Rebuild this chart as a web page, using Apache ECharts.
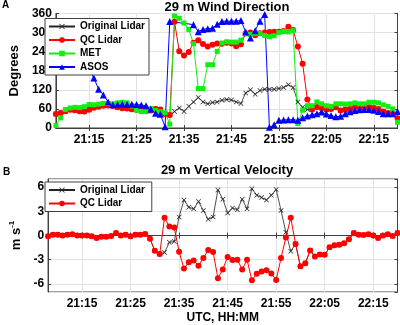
<!DOCTYPE html>
<html>
<head>
<meta charset="utf-8">
<script src="https://cdn.jsdelivr.net/npm/echarts@6/dist/echarts.min.js"></script>
<style>
  html, body { margin: 0; padding: 0; background: #fff; }
  #chart { width: 400px; height: 325px; }
</style>
</head>
<body>
<div id="chart"></div>
<script>
// time axis, one sample per minute
var times = [
    '21:08','21:09','21:10','21:11','21:12','21:13','21:14','21:15','21:16','21:17',
    '21:18','21:19','21:20','21:21','21:22','21:23','21:24','21:25','21:26','21:27',
    '21:28','21:29','21:30','21:31','21:32','21:33','21:34','21:35','21:36','21:37',
    '21:38','21:39','21:40','21:41','21:42','21:43','21:44','21:45','21:46','21:47',
    '21:48','21:49','21:50','21:51','21:52','21:53','21:54','21:55','21:56','21:57',
    '21:58','21:59','22:00','22:01','22:02','22:03','22:04','22:05','22:06','22:07',
    '22:08','22:09','22:10','22:11','22:12','22:13','22:14','22:15','22:16','22:17',
    '22:18','22:19','22:20'
];
var timeTicks = ['21:15', '21:25', '21:35', '21:45', '21:55', '22:05', '22:15'];

// A: 29 m wind direction (degrees)
var dirOriginal = [
    44, 47, 53, 57, 56, 53, 52, 57, 64, 67,
    70, 71, 69, 65, 62, 61, 59, 57, 54, 53,
    55, 60, 58, 44, 41, 52, 63, 52, 68, 82,
    96, 82, 76, 80, 82, 87, 90, 88, 82, 77,
    110, 120, 106, 118, 122, 122, 122, 124, 127, 136,
    127, 82, 65, 58, 58, 66, 63, 58, 60, 65,
    55, 58, 60, 66, 66, 68, 65, 63, 60, 52,
    47, 45, 31
];
var dirQC = [
    44, 47, 53, 57, 56, 53, 52, 57, 64, 67,
    70, 71, 69, 65, 62, 61, 59, 57, 54, 53,
    55, 60, 58, 44, 41, 334, 241, 228, 239, 268,
    276, 264, 256, 262, 266, 265, 268, 266, 257, 263,
    298, 300, 292, 298, 300, 302, 303, 303, 305, 318,
    308, 256, 202, 90, 58, 66, 63, 58, 60, 65,
    55, 58, 60, 66, 66, 68, 65, 63, 60, 52,
    47, 45, 31
];
var dirMET = [
    8, 32, 58, 63, 65, 64, 67, 74, 73, 75,
    77, 77, 76, 79, 81, 79, 69, 56, 52, 52,
    61, 55, 51, 48, 12, 352, 345, 330, 310, 265,
    124, 124, 199, 199, 241, 267, 271, 270, 270, 276,
    296, 294, 298, 298, 291, 287, 290, 300, 304, 302,
    306, 14, 56, 70, 70, 82, 76, 70, 68, 76,
    76, 75, 76, 79, 76, 76, 81, 81, 79, 73,
    68, 60, 18
];
var dirASOS = [
    185, 190, 191, 192, 191, 190, 188, 184, 157, 122,
    104, 82, 73, 74, 75, 74, 75, 74, 72, 70,
    60, 46, 43, 4, 335, null, null, null, null, 325,
    303, 310, 312, 314, 326, 335, 336, 336, 336, 338,
    302, 283, 306, 336, 357, 2, 10, 24, 25, 26,
    26, 24, 32, 38, 42, 45, 50, 44, 39, 35,
    37, 45, 51, 55, 57, 58, 58, 56, 52, 45,
    45, 45, 52
];

// B: 29 m vertical velocity (m/s)
var velOriginal = [
    -0.1, 0.1, 0.1, 0.0, 0.1, 0.15, 0, 0, 0, -0.1,
    -0.3, -0.15, -0.15, -0.05, 0.3, 0, 0.1, -0.1, 0.1, 0.1,
    0.2, -0.4, -1.9, -2.3, -2.1, -0.85, -0.75, 2.3, 4.4, 3.5,
    3.3, 4.2, 3.1, 2.0, 2.3, 5.65, 4.5, 2.8, 3.4, 3.2,
    4.5, 3.3, 5.8, 5.0, 4.7, 4.4, 5.0, 5.7, 3.1, 0.4,
    -1.95, -1.05, -3.8, -3.45, -1.85, -2.6, -2.35, -2.4, -1.45, -1.2,
    -1.15, -0.95, -0.45, 0.3, 0.1, 0.05, 0.15, 0, -0.3, 0,
    0.15, -0.05, 0.3
];
var velQC = [
    -0.1, 0.1, 0.1, 0.0, 0.1, 0.15, 0, 0, 0, -0.1,
    -0.3, -0.15, -0.15, -0.05, 0.3, 0, 0.1, -0.1, 0.1, 0.1,
    0.2, -0.4, -1.9, -2.3, 2.2, 1.1, 1.0, -2.0, -4.1, -3.3,
    -3.1, -3.75, -2.8, -1.8, -2.05, -5.3, -4.2, -2.65, -3.05, -3.0,
    -4.2, -3.0, -5.55, -4.75, -4.45, -4.3, -4.7, -5.5, -2.8, -0.25,
    2.2, -1.05, -3.8, -3.45, -1.85, -2.6, -2.35, -2.4, -1.45, -1.2,
    -1.15, -0.95, -0.45, 0.3, 0.1, 0.05, 0.15, 0, -0.3, 0,
    0.15, -0.05, 0.3
];

var font = 'Liberation Sans, Arial, sans-serif';
var boxColor = '#404040';
var xSymbol = 'path://M0,1L1,0L5,4L9,0L10,1L6,5L10,9L9,10L5,6L1,10L0,9L4,5Z';

var isTick = function (index, value) {
    return timeTicks.indexOf(value) >= 0;
};

var bottomAxis = function (gridIndex, name) {
    return {
        type: 'category',
        gridIndex: gridIndex,
        data: times,
        boundaryGap: false,
        name: name,
        nameLocation: 'middle',
        nameGap: 20,
        nameTextStyle: {fontFamily: font, fontWeight: 'bold', fontSize: 12, color: '#000'},
        axisLine: {lineStyle: {color: boxColor}},
        axisTick: {inside: true, length: 3, interval: isTick, lineStyle: {color: boxColor}},
        axisLabel: {interval: isTick, margin: 6, fontFamily: font, fontWeight: 'bold', fontSize: 12, color: '#000'},
        splitLine: {show: true, interval: isTick, lineStyle: {color: '#e2e2e2', width: 1}}
    };
};
var topAxis = function (gridIndex) {
    return {
        type: 'category',
        gridIndex: gridIndex,
        position: 'top',
        data: times,
        boundaryGap: false,
        axisLine: {lineStyle: {color: boxColor}},
        axisTick: {inside: true, length: 3, interval: isTick, lineStyle: {color: boxColor}},
        axisLabel: {show: false},
        splitLine: {show: false}
    };
};
var rightAxis = function (gridIndex, min, max, interval, splitNumber) {
    return {
        type: 'value',
        gridIndex: gridIndex,
        position: 'right',
        min: min,
        max: max,
        interval: interval,
        splitNumber: splitNumber,
        axisLine: {show: true, lineStyle: {color: boxColor}},
        axisTick: {show: true, inside: true, length: 3, lineStyle: {color: boxColor}},
        axisLabel: {show: false},
        splitLine: {show: false}
    };
};
var legendBox = function (top, names) {
    return {
        orient: 'vertical',
        left: 45,
        top: top,
        padding: [3, 4, 3, 3],
        itemWidth: 26,
        itemHeight: 7,
        itemGap: 3.5,
        backgroundColor: '#fff',
        borderColor: boxColor,
        borderWidth: 1,
        borderRadius: 0,
        textStyle: {fontFamily: font, fontWeight: 'bold', fontSize: 10, color: '#000'},
        data: names
    };
};

var option = {
    animation: false,
    backgroundColor: '#fff',
    textStyle: {fontFamily: font},
    grid: [
        {left: 37, right: 2.5, top: 13.5, height: 114.5, show: true, borderColor: boxColor, borderWidth: 1},
        {left: 37, right: 2.5, top: 179, height: 113, show: true, borderColor: boxColor, borderWidth: 1}
    ],
    graphic: [
        {type: 'text', x: 2, y: 5.5, style: {text: 'A', font: 'bold 10px ' + font, fill: '#000', textAlign: 'left', textVerticalAlign: 'middle'}},
        {type: 'text', x: 227, y: 7, style: {text: '29 m Wind Direction', font: 'bold 13px ' + font, fill: '#000', textAlign: 'center', textVerticalAlign: 'middle'}},
        {type: 'text', x: 3, y: 172, style: {text: 'B', font: 'bold 10px ' + font, fill: '#000', textAlign: 'left', textVerticalAlign: 'middle'}},
        {type: 'text', x: 227, y: 170.5, style: {text: '29 m Vertical Velocity', font: 'bold 13px ' + font, fill: '#000', textAlign: 'center', textVerticalAlign: 'middle'}}
    ],
    legend: [
        legendBox(18.5, ['Original Lidar', 'QC Lidar', 'MET', 'ASOS']),
        legendBox(182, ['Original Lidar ', 'QC Lidar '])
    ],
    xAxis: [
        bottomAxis(0, ''),
        topAxis(0),
        bottomAxis(1, 'UTC, HH:MM'),
        topAxis(1)
    ],
    yAxis: [
        {
            type: 'value',
            gridIndex: 0,
            min: 0,
            max: 360,
            interval: 60,
            name: 'Degrees',
            nameLocation: 'middle',
            nameGap: 21,
            nameTextStyle: {fontFamily: font, fontWeight: 'bold', fontSize: 13, color: '#000'},
            axisLine: {show: true, lineStyle: {color: boxColor}},
            axisTick: {show: true, inside: true, length: 3, lineStyle: {color: boxColor}},
            axisLabel: {margin: 4, fontFamily: font, fontWeight: 'bold', fontSize: 12, color: '#000'},
            splitLine: {lineStyle: {color: '#e2e2e2', width: 1}}
        },
        rightAxis(0, 0, 360, 60),
        {
            type: 'value',
            gridIndex: 1,
            min: -7,
            max: 7,
            splitNumber: 5,
            name: '{a|m s}{b|-1}',
            nameLocation: 'middle',
            nameGap: 21,
            nameTextStyle: {
                rich: {
                    a: {fontFamily: font, fontWeight: 'bold', fontSize: 13, color: '#000', lineHeight: 16},
                    b: {fontFamily: font, fontWeight: 'bold', fontSize: 8, color: '#000', lineHeight: 8, verticalAlign: 'top'}
                }
            },
            axisLine: {show: true, lineStyle: {color: boxColor}},
            axisTick: {show: true, inside: true, length: 3, lineStyle: {color: boxColor}},
            axisLabel: {margin: 4, showMinLabel: false, showMaxLabel: false, fontFamily: font, fontWeight: 'bold', fontSize: 12, color: '#000'},
            splitLine: {lineStyle: {color: '#e2e2e2', width: 1}}
        },
        rightAxis(1, -7, 7, undefined, 5)
    ],
    series: [
        {
            name: 'Original Lidar', type: 'line', xAxisIndex: 0, yAxisIndex: 0,
            data: dirOriginal, symbol: xSymbol, symbolSize: 5, showAllSymbol: true,
            lineStyle: {color: '#222', width: 0.8}, itemStyle: {color: '#222'}
        },
        {
            name: 'QC Lidar', type: 'line', xAxisIndex: 0, yAxisIndex: 0,
            data: dirQC, symbol: 'circle', symbolSize: 6, showAllSymbol: true,
            lineStyle: {color: '#ff0000', width: 1}, itemStyle: {color: '#ff0000'}
        },
        {
            name: 'MET', type: 'line', xAxisIndex: 0, yAxisIndex: 0,
            data: dirMET, symbol: 'rect', symbolSize: 5, showAllSymbol: true,
            lineStyle: {color: '#11ee11', width: 1}, itemStyle: {color: '#11ee11'}
        },
        {
            name: 'ASOS', type: 'line', xAxisIndex: 0, yAxisIndex: 0,
            data: dirASOS, symbol: 'triangle', symbolSize: 7, showAllSymbol: true, connectNulls: true,
            lineStyle: {color: '#0000ff', width: 1}, itemStyle: {color: '#0000ff'}
        },
        {
            name: 'Original Lidar ', type: 'line', xAxisIndex: 2, yAxisIndex: 2,
            data: velOriginal, symbol: xSymbol, symbolSize: 5, showAllSymbol: true,
            lineStyle: {color: '#222', width: 0.8}, itemStyle: {color: '#222'}
        },
        {
            name: 'QC Lidar ', type: 'line', xAxisIndex: 2, yAxisIndex: 2,
            data: velQC, symbol: 'circle', symbolSize: 6, showAllSymbol: true,
            lineStyle: {color: '#ff0000', width: 1}, itemStyle: {color: '#ff0000'}
        }
    ]
};

var myChart = echarts.init(document.getElementById('chart'), null, {renderer: 'canvas'});
myChart.setOption(option);
</script>
</body>
</html>
